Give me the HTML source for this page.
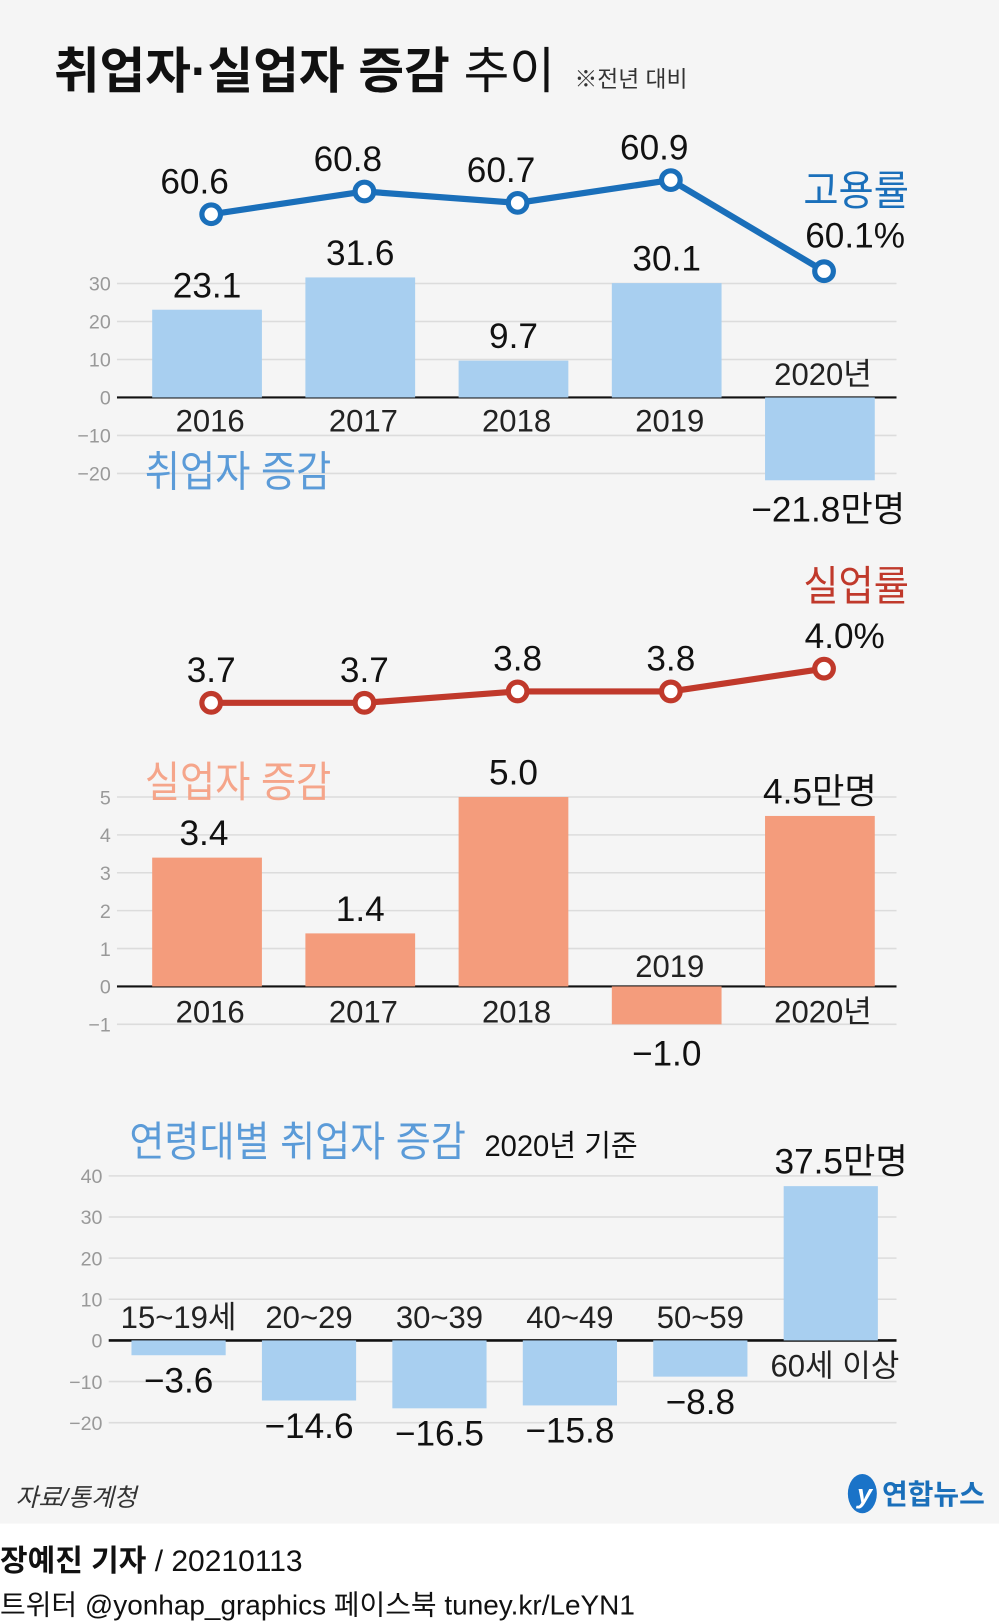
<!DOCTYPE html>
<html><head><meta charset="utf-8">
<style>
html,body{margin:0;padding:0;background:#fff;}
svg{display:block;}
text{font-family:"Liberation Sans Narrow","Liberation Sans","Noto Sans CJK KR",sans-serif;}
</style></head>
<body>
<svg id="svg" width="999" height="1623" viewBox="0 0 965 1568" preserveAspectRatio="none" xmlns="http://www.w3.org/2000/svg">
<rect x="0" y="0" width="965" height="1472" fill="#f5f5f5"/>
<text x="52" y="85" font-size="48" font-weight="bold" fill="#111">취업자·실업자 증감 <tspan font-weight="normal">추이</tspan></text>
<text x="555" y="84" font-size="22" fill="#333">※전년 대비</text>
<g id="c1"></g>
<g id="c2"></g>
<g id="c3"></g>
<text x="15" y="1455" font-size="24" font-style="italic" fill="#333">자료/통계청</text>
<g>
<ellipse cx="833" cy="1443" rx="14" ry="19" fill="#1a73c8"/>
<text x="828" y="1452" font-size="26" font-style="italic" font-weight="bold" fill="#fff">y</text>
<text x="852" y="1453" font-size="27" font-weight="bold" fill="#1a6fba">연합뉴스</text>
</g>
<text x="0" y="1518" font-size="29" fill="#111"><tspan font-weight="bold">장예진 기자</tspan> / 20210113</text>
<text x="0" y="1560" font-size="27" fill="#111">트위터 @yonhap_graphics  페이스북 tuney.kr/LeYN1</text>
</svg>
<script>
const years = ['2016','2017','2018','2019','2020'];
const empRate = [60.6, 60.8, 60.7, 60.9, 60.1];
const empChange = [23.1, 31.6, 9.7, 30.1, -21.8];
const empTicks = [30, 20, 10, 0, -10, -20];
const unRate = [3.7, 3.7, 3.8, 3.8, 4.0];
const unChange = [3.4, 1.4, 5.0, -1.0, 4.5];
const unTicks = [5, 4, 3, 2, 1, 0, -1];
const ages = ['15~19세','20~29','30~39','40~49','50~59','60세 이상'];
const ageChange = [-3.6, -14.6, -16.5, -15.8, -8.8, 37.5];
const ageTicks = [40, 30, 20, 10, 0, -10, -20];

const NS='http://www.w3.org/2000/svg';
function mk(parent, tag, attrs, txt){
  const e=document.createElementNS(NS,tag);
  for(const k in attrs) e.setAttribute(k,attrs[k]);
  if(txt!==undefined) e.textContent=txt;
  parent.appendChild(e); return e;
}
function fmt(v){return (v<0?'\u2212'+Math.abs(v).toFixed(1):v.toFixed(1));}

// ---------- chart 1 ----------
(function(){
  const g=document.getElementById('c1');
  const y0=384, k=3.67, x0=113, x1=866;
  const yv=v=>y0-v*k;
  const xc=i=>200+i*148, bw=106;
  const ry=v=>207-(v-60.6)*110;
  empTicks.forEach(t=>{
    const l=mk(g,'line',{x1:x0,x2:x1,y1:yv(t),y2:yv(t),stroke:t===0?'#111':'#dcdcdc','stroke-width':t===0?2:1.5});
    
    
    const tx=mk(g,'text',{x:107,y:yv(t)+7,'font-size':19,fill:'#999','text-anchor':'end'},t<0?'\u2212'+Math.abs(t):t);
    
    
  });
  empChange.forEach((v,i)=>{
    const r=mk(g,'rect',{x:xc(i)-bw/2,y:Math.min(yv(v),y0),width:bw,height:Math.abs(v)*k,fill:'#a8cff0'});
    
    
    const lab = i===4 ? fmt(v)+'만명' : fmt(v);
    const ly = v>=0 ? yv(v)-12 : yv(v)+40;
    const t=mk(g,'text',{x:xc(i)+(i===4?8:0),y:ly,'font-size':34,fill:'#111','text-anchor':'middle'},lab);
    
    
    const yl = v>=0 ? y0+33 : y0-12;
    const yt=mk(g,'text',{x:xc(i)+3,y:yl,'font-size':30,fill:'#222','text-anchor':'middle'},i===4?years[i]+'년':years[i]);
    
    
  });
  const pl=mk(g,'polyline',{points:empRate.map((v,i)=>(xc(i)+4)+','+ry(v)).join(' '),fill:'none',stroke:'#1a6fba','stroke-width':6,'stroke-linejoin':'round'});
  
  
  empRate.forEach((v,i)=>{
    const c=mk(g,'circle',{cx:xc(i)+4,cy:ry(v),r:9,fill:'#fff',stroke:'#1a6fba','stroke-width':5});
    
    
    if(i<4){
      const t=mk(g,'text',{x:xc(i)-12,y:ry(v)-20,'font-size':34,fill:'#111','text-anchor':'middle'},v.toFixed(1));
      
      
    } else {
      const t=mk(g,'text',{x:826,y:ry(v)-23,'font-size':34,fill:'#111','text-anchor':'middle'},v.toFixed(1)+'%');
      
      
    }
  });
  const t1=mk(g,'text',{x:776,y:198,'font-size':40,fill:'#1a6fba',textLength:102,lengthAdjust:'spacingAndGlyphs'},'고용률');
  
  
  const t2=mk(g,'text',{x:140,y:470,'font-size':41,fill:'#5b9bd8',textLength:180,lengthAdjust:'spacingAndGlyphs'},'취업자 증감');
  
  
})();

// ---------- chart 2 ----------
(function(){
  const g=document.getElementById('c2');
  const y0=953, k=36.6, x0=113, x1=866;
  const yv=v=>y0-v*k;
  const xc=i=>200+i*148, bw=106;
  const ry=v=>679-(v-3.7)*110;
  unTicks.forEach(t=>{
    const l=mk(g,'line',{x1:x0,x2:x1,y1:yv(t),y2:yv(t),stroke:t===0?'#111':'#dcdcdc','stroke-width':t===0?2:1.5});
    
    
    const tx=mk(g,'text',{x:107,y:yv(t)+7,'font-size':19,fill:'#999','text-anchor':'end'},t<0?'\u2212'+Math.abs(t):t);
    
    
  });
  unChange.forEach((v,i)=>{
    const r=mk(g,'rect',{x:xc(i)-bw/2,y:Math.min(yv(v),y0),width:bw,height:Math.abs(v)*k,fill:'#f49c7c'});
    
    
    const lab = i===4 ? fmt(v)+'만명' : fmt(v);
    const ly = v>=0 ? yv(v)-12 : yv(v)+40;
    const t=mk(g,'text',{x:xc(i)-(i===0?3:0),y:ly,'font-size':34,fill:'#111','text-anchor':'middle'},lab);
    
    
    const yl = v>=0 ? y0+35 : y0-9;
    const yt=mk(g,'text',{x:xc(i)+3,y:yl,'font-size':30,fill:'#222','text-anchor':'middle'},i===4?years[i]+'년':years[i]);
    
    
  });
  const pl=mk(g,'polyline',{points:unRate.map((v,i)=>(xc(i)+4)+','+ry(v)).join(' '),fill:'none',stroke:'#c0392b','stroke-width':6,'stroke-linejoin':'round'});
  
  
  unRate.forEach((v,i)=>{
    const c=mk(g,'circle',{cx:xc(i)+4,cy:ry(v),r:9,fill:'#fff',stroke:'#c0392b','stroke-width':5});
    
    
    const lab=i<4?v.toFixed(1):v.toFixed(1)+'%';
    const t=mk(g,'text',{x:i<4?xc(i)+4:816,y:ry(v)-20,'font-size':34,fill:'#111','text-anchor':'middle'},lab);
    
    
  });
  const t1=mk(g,'text',{x:776,y:580,'font-size':40,fill:'#c0392b',textLength:102,lengthAdjust:'spacingAndGlyphs'},'실업률');
  
  
  const t2=mk(g,'text',{x:140,y:770,'font-size':41,fill:'#f5a58a',textLength:180,lengthAdjust:'spacingAndGlyphs'},'실업자 증감');
  
  
})();

// ---------- chart 3 ----------
(function(){
  const g=document.getElementById('c3');
  const y0=1295, k=3.975, x0=105, x1=866;
  const yv=v=>y0-v*k;
  const xc=i=>172.5+i*126, bw=91;
  ageTicks.forEach(t=>{
    const l=mk(g,'line',{x1:x0,x2:x1,y1:yv(t),y2:yv(t),stroke:t===0?'#111':'#dcdcdc','stroke-width':t===0?2.5:1.5});
    
    
    const tx=mk(g,'text',{x:99,y:yv(t)+7,'font-size':19,fill:'#999','text-anchor':'end'},t<0?'\u2212'+Math.abs(t):t);
    
    
  });
  ageChange.forEach((v,i)=>{
    const r=mk(g,'rect',{x:xc(i)-bw/2,y:Math.min(yv(v),y0),width:bw,height:Math.abs(v)*k,fill:'#a8cff0'});
    
    
    const lab = v>=0 ? fmt(v)+'만명' : fmt(v);
    const ly = v>=0 ? yv(v)-12 : yv(v)+36;
    const t=mk(g,'text',{x:xc(i)+(v>=0?10:0),y:ly,'font-size':34,fill:'#111','text-anchor':'middle'},lab);
    
    
    const yl = v<0 ? y0-12 : y0+35;
    const yt=mk(g,'text',{x:xc(i)+(v>=0?4:0),y:yl,'font-size':30,fill:'#222','text-anchor':'middle'},ages[i]);
    
    
  });
  const t2=mk(g,'text',{x:125,y:1117,'font-size':40,fill:'#5b9bd8',textLength:325,lengthAdjust:'spacingAndGlyphs'},'연령대별 취업자 증감');
  
  
  const t3=mk(g,'text',{x:468,y:1117,'font-size':29,fill:'#111',textLength:148,lengthAdjust:'spacingAndGlyphs'},'2020년 기준');
  
  
})();
</script>
</body></html>
